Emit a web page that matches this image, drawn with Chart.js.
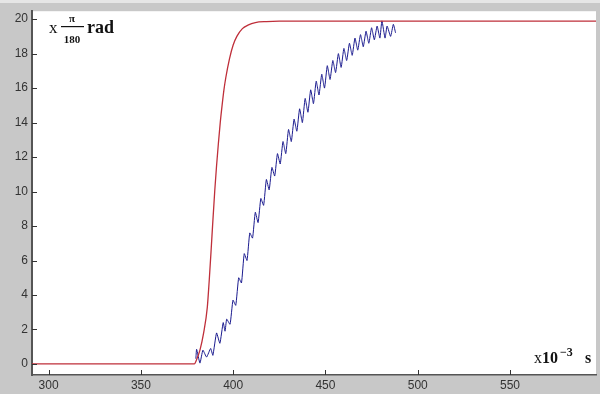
<!DOCTYPE html>
<html>
<head>
<meta charset="utf-8">
<script src="https://cdn.jsdelivr.net/npm/chart.js@4/dist/chart.umd.min.js"></script>
<style>
  html, body { margin: 0; padding: 0; background: #c8c8c8; }
  #wrap { position: relative; width: 600px; height: 394px; overflow: hidden; }
  #topstrip { position: absolute; left: 0; top: 0; width: 600px; height: 3px; background: #e6e6e6; }
  canvas { position: absolute; left: 0; top: 0; }
</style>
</head>
<body>
<div id="wrap">
  <div id="topstrip"></div>
  <canvas id="c" width="600" height="394"></canvas>
</div>
<script>
// ---- data ----
const xTicks = [300, 350, 400, 450, 500, 550];
const yTicks = [0, 2, 4, 6, 8, 10, 12, 14, 16, 18, 20];

const redX = [291, 379, 380, 382, 384, 386, 387, 388, 389, 390, 391, 392, 393, 394, 395, 396, 398, 400, 402, 405, 408, 412, 418, 425, 597];
const redY = [0, 0, 0.2, 0.8, 1.8, 3.3, 4.8, 6.5, 8.3, 10.0, 11.5, 12.8, 14.0, 15.0, 15.9, 16.6, 17.7, 18.5, 19.0, 19.45, 19.65, 19.8, 19.86, 19.88, 19.88];

const blueX = [379.8, 380.2, 382.0, 383.6, 385.6, 387.8, 389.0, 391.0, 392.8, 394.6, 395.6, 396.5, 398.3, 399.9,
  401.4, 403.0, 404.5, 406.0, 407.5, 409.0, 410.5, 412.0, 413.5, 415.0, 416.5, 418.0, 419.5, 421.0, 422.5,
  424.0, 425.5, 427.0, 428.5, 430.0, 431.5, 433.0, 434.5, 436.0, 437.5, 439.0, 440.5, 442.0, 443.5, 445.0,
  446.5, 448.0, 449.5, 451.0, 452.5, 454.0, 455.5, 457.0, 458.5, 460.0, 461.5, 463.0, 464.5, 466.0, 467.5,
  469.0, 470.5, 472.0, 473.5, 475.0, 476.5, 478.0, 479.5, 480.6, 482.3, 483.4, 485.3, 486.8, 488.0];
const blueY = [0.3, 0.85, 0.05, 0.8, 0.4, 0.9, 0.5, 1.8, 1.2, 2.4, 1.9, 2.6, 2.3, 3.7,
  3.4, 5.0, 4.7, 6.4, 6.0, 7.6, 7.3, 8.8, 8.2, 9.6, 9.2, 10.7, 10.1, 11.4, 10.9,
  12.2, 11.6, 12.9, 12.2, 13.6, 12.9, 14.2, 13.5, 14.8, 14.0, 15.4, 14.6, 15.9, 15.1, 16.4,
  15.6, 16.8, 16.0, 17.3, 16.5, 17.6, 16.9, 18.0, 17.2, 18.3, 17.6, 18.6, 17.9, 18.9, 18.2,
  19.1, 18.4, 19.3, 18.6, 19.5, 18.8, 19.6, 18.9, 19.9, 18.9, 19.6, 19.0, 19.7, 19.2];

const pts = (xs, ys) => xs.map((x, i) => ({ x: x, y: ys[i] }));

const bgPlugin = {
  id: 'bg',
  beforeDraw(chart) {
    const { ctx, chartArea: a } = chart;
    ctx.save();
    ctx.fillStyle = '#ffffff';
    ctx.fillRect(a.left, a.top, a.right - a.left, a.bottom - a.top);
    ctx.restore();
  },
  afterDraw(chart) {
    const { ctx, chartArea: a } = chart;
    const xs = chart.scales.x, ys = chart.scales.y;
    ctx.save();
    ctx.strokeStyle = '#333333';
    ctx.lineWidth = 1;
    ctx.beginPath();
    xs.ticks.forEach((t) => {
      const px = Math.round(xs.getPixelForValue(t.value)) + 0.5;
      ctx.moveTo(px, a.bottom);
      ctx.lineTo(px, a.bottom - 5);
    });
    ys.ticks.forEach((t) => {
      const py = Math.round(ys.getPixelForValue(t.value)) + 0.5;
      ctx.moveTo(a.left, py);
      ctx.lineTo(a.left + 5, py);
    });
    ctx.stroke();

    // unit annotations
    ctx.fillStyle = '#111111';
    ctx.textBaseline = 'alphabetic';
    ctx.textAlign = 'left';
    ctx.font = '17px "Liberation Serif", serif';
    ctx.fillText('x', 49, 33);
    ctx.textAlign = 'center';
    ctx.font = 'bold 11px "Liberation Serif", serif';
    ctx.fillText('π', 72, 22);
    ctx.font = 'bold 11px "Liberation Serif", serif';
    ctx.fillText('180', 72, 43);
    ctx.fillRect(61, 26, 23, 1.2);
    ctx.textAlign = 'left';
    ctx.font = 'bold 18px "Liberation Serif", serif';
    ctx.fillText('rad', 87, 33);

    ctx.font = '16px "Liberation Serif", serif';
    ctx.fillText('x', 534, 363);
    ctx.font = 'bold 16px "Liberation Serif", serif';
    ctx.fillText('10', 542, 363);
    ctx.font = 'bold 12px "Liberation Serif", serif';
    ctx.fillText('−3', 560, 356);
    ctx.font = 'bold 16px "Liberation Serif", serif';
    ctx.fillText('s', 585, 363);
    ctx.restore();
  }
};

new Chart(document.getElementById('c'), {
  type: 'line',
  data: {
    datasets: [
      { data: pts(redX, redY), borderColor: '#bf2f3a', borderWidth: 1.3, pointRadius: 0, tension: 0.3, cubicInterpolationMode: 'monotone' },
      { data: pts(blueX, blueY), borderColor: '#1b1b8f', borderWidth: 1, pointRadius: 0, tension: 0.15 }
    ]
  },
  options: {
    responsive: false,
    animation: false,
    parsing: false,
    layout: { padding: { top: 11, right: 4, left: 0, bottom: 0 } },
    plugins: { legend: { display: false }, tooltip: { enabled: false } },
    scales: {
      x: {
        type: 'linear',
        min: 291,
        max: 596.6,
        afterBuildTicks: (s) => { s.ticks = xTicks.map((v) => ({ value: v })); },
        afterFit: (s) => { s.height = 19; },
        grid: { display: false, drawTicks: false },
        border: { display: true, color: '#555555', width: 1.5 },
        ticks: { color: '#333333', font: { family: '"Liberation Sans", Arial, sans-serif', size: 12 }, padding: 3, maxRotation: 0, autoSkip: false }
      },
      y: {
        type: 'linear',
        min: -0.64,
        max: 20.46,
        afterBuildTicks: (s) => { s.ticks = yTicks.map((v) => ({ value: v })); },
        afterFit: (s) => { s.width = 32; },
        grid: { display: false, drawTicks: false },
        border: { display: true, color: '#555555', width: 2 },
        ticks: { color: '#333333', font: { family: '"Liberation Sans", Arial, sans-serif', size: 12 }, padding: 4, autoSkip: false }
      }
    }
  },
  plugins: [bgPlugin]
});
</script>
</body>
</html>
